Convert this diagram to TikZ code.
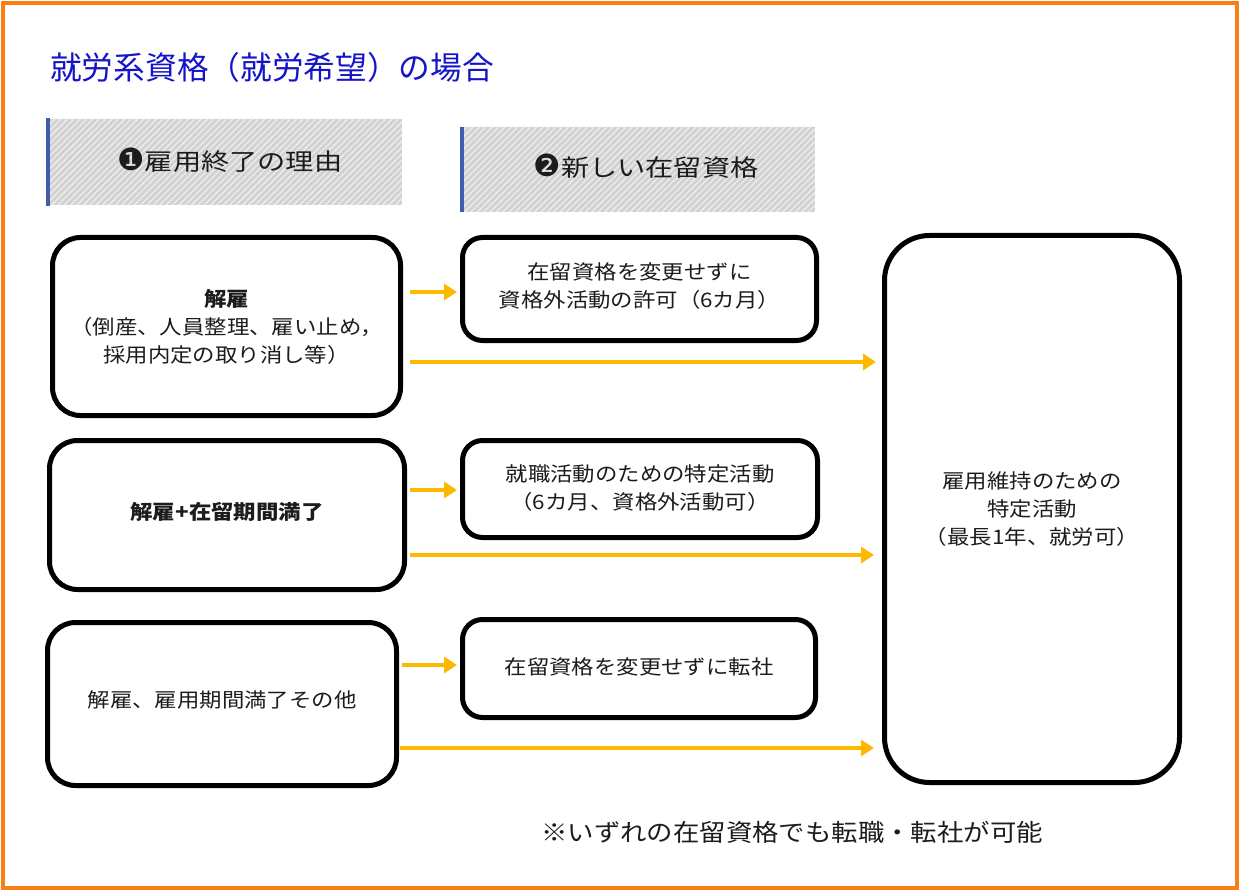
\documentclass[tikz,border=0pt]{standalone}
\usepackage{fontspec}
\setmainfont{Noto Sans CJK JP}
\newfontfamily\jpbox[FakeStretch=1.12]{Noto Sans CJK JP}
\newfontfamily\jphdr[FakeStretch=1.2]{Noto Sans CJK JP}
\newfontfamily\jptitle{Noto Sans CJK JP}
\newfontfamily\jpnote[FakeStretch=1.1]{Noto Sans CJK JP}
\newfontfamily\dingfont[Scale=1.3]{DejaVu Sans}
\usetikzlibrary{arrows.meta,calc,patterns.meta}
\definecolor{frameorange}{RGB}{247,128,24}
\definecolor{arrowc}{RGB}{255,184,0}
\definecolor{titleblue}{RGB}{20,20,200}
\definecolor{txt}{RGB}{28,28,28}
\definecolor{hatchbg}{RGB}{210,210,210}
\definecolor{hatchln}{RGB}{238,238,238}
\definecolor{barblue}{RGB}{64,92,170}
\tikzset{
  box/.style={draw=black, line width=5pt, fill=white, align=center, inner sep=0pt,
    text=txt, font=\jpbox\fontsize{20}{28}\selectfont},
  lbox/.style={box, rounded corners=28pt},
  mbox/.style={box, rounded corners=20pt},
  rbox/.style={box, rounded corners=45pt},
  hdr/.style={preaction={fill=hatchbg}, pattern={Lines[angle=45,distance=4.5pt,line width=1.3pt]},
    pattern color=hatchln, inner sep=0pt},
  hdrtext/.style={text=txt, font=\jphdr\fontsize{23.5}{28}\selectfont},
  bar/.style={draw=barblue, line width=4pt},
  arr/.style={draw=arrowc, line width=4pt, -{Triangle[length=13pt,width=16pt]}},
}
\begin{document}
\begin{tikzpicture}[x=1pt,y=-1pt]
\useasboundingbox (0,0) rectangle (1241,893);
\draw[frameorange, line width=4pt] (3,3) rectangle (1237,888);
\node[anchor=west, text=titleblue, inner sep=0pt, font=\jptitle\fontsize{31.7}{36}\selectfont] (title) at (50,67) {就労系資格（就労希望）の場合};
% headers
\node[hdr, minimum width=355pt, minimum height=86pt] (H1) at (224.5,162) {};
\node[hdrtext] (H1t) at (230,160) {{\dingfont ❶}雇用終了の理由};
\draw[bar] ($(H1.north west)+(2,0)$) -- ($(H1.south west)+(2,0)$);
\node[hdr, minimum width=355pt, minimum height=85pt] (H2) at (637.5,169.5) {};
\node[hdrtext] (H2t) at (646,166) {{\dingfont ❷}新しい在留資格};
\draw[bar] ($(H2.north west)+(2,0)$) -- ($(H2.south west)+(2,0)$);
% left boxes
\node[lbox, minimum width=348pt, minimum height=178pt] (L1) at (226.5,326.5)
  {{\bfseries 解雇}\\（倒産、人員整理、雇い止め，\\採用内定の取り消し等）};
\node[lbox, minimum width=355pt, minimum height=149pt] (L2) at (227,515) {};
\node[text=txt, font=\jpbox\bfseries\fontsize{20}{28}\selectfont] (L2t) at (227,512) {解雇+在留期間満了};
\node[lbox, minimum width=349pt, minimum height=163pt] (L3) at (222,704) {};
\node[text=txt, font=\jpbox\fontsize{20}{28}\selectfont] (L3t) at (222,700) {解雇、雇用期間満了その他};
% middle boxes
\node[mbox, minimum width=354pt, minimum height=103pt] (M1) at (639.5,289) {};
\node[text=txt, align=center, font=\jpbox\fontsize{20}{28}\selectfont] (M1t) at (639.5,286) {在留資格を変更せずに\\資格外活動の許可（6カ月）};
\node[mbox, minimum width=355pt, minimum height=97pt] (M2) at (640,489) {};
\node[text=txt, align=center, font=\jpbox\fontsize{20}{28}\selectfont] (M2t) at (640,488.5) {就職活動のための特定活動\\（6カ月、資格外活動可）};
\node[mbox, minimum width=353pt, minimum height=98pt] (M3) at (639,668.5) {};
\node[text=txt, font=\jpbox\fontsize{20}{28}\selectfont] (M3t) at (639,667) {在留資格を変更せずに転社};
% right box
\node[rbox, minimum width=295pt, minimum height=547pt] (R) at (1032,509)
  {雇用維持のための\\特定活動\\（最長1年、就労可）};
% arrows
\coordinate (y1) at (0,292);
\coordinate (y2) at (0,362);
\coordinate (y3) at (0,490);
\coordinate (y4) at (0,555);
\coordinate (y5) at (0,665);
\coordinate (y6) at (0,748);
\draw[arr] ($(L1.east |- y1)+(7,0)$) -- ($(M1.west |- y1)+(-3,0)$);
\draw[arr] ($(L1.east |- y2)+(7,0)$) -- ($(R.west |- y2)+(-6,0)$);
\draw[arr] ($(L2.east |- y3)+(3,0)$) -- ($(M2.west |- y3)+(-3,0)$);
\draw[arr] ($(L2.east |- y4)+(3,0)$) -- ($(R.west |- y4)+(-8,0)$);
\draw[arr] ($(L3.east |- y5)+(3,0)$) -- ($(M3.west |- y5)+(-3,0)$);
\draw[arr] ($(L3.east |- y6)+(1,0)$) -- ($(R.west |- y6)+(-8,0)$);
% footnote
\node[text=txt, font=\jpnote\fontsize{24}{28}\selectfont] (note) at (792,832) {※いずれの在留資格でも転職・転社が可能};
\end{tikzpicture}
\end{document}
